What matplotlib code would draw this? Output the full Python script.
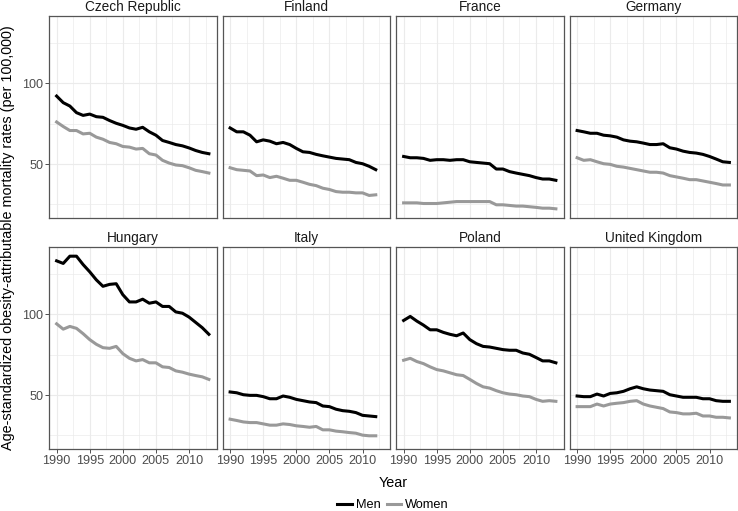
import numpy as np
import matplotlib
matplotlib.use("Agg")
import matplotlib.pyplot as plt
from matplotlib.ticker import MultipleLocator
from matplotlib.lines import Line2D

plt.rcParams['font.family'] = ['Liberation Sans', 'DejaVu Sans']

# --- data ---
countries = ['Czech Republic', 'Finland', 'France', 'Germany',
             'Hungary', 'Italy', 'Poland', 'United Kingdom']

czech_men = [92.2, 88.1, 86.0, 81.9, 80.2, 81.0, 79.4, 79.0, 77.0, 75.3, 74.0, 72.4,
             71.6, 72.8, 70.0, 67.9, 64.6, 63.4, 62.1, 61.3, 60.0, 58.4, 57.2, 56.4]
czech_women = [76.1, 73.3, 70.8, 70.8, 68.7, 69.1, 66.7, 65.4, 63.4, 62.6, 60.9, 60.5,
               59.3, 59.7, 56.4, 55.6, 52.3, 50.6, 49.4, 49.0, 47.7, 46.1, 45.3, 44.4]
finland_men = [72.4, 70.0, 70.0, 67.9, 63.8, 65.0, 64.2, 62.6, 63.4, 62.1, 59.7, 57.6,
               57.2, 56.0, 55.1, 54.3, 53.5, 53.1, 52.7, 51.0, 50.2, 48.6, 46.5]
finland_women = [47.7, 46.5, 46.1, 45.7, 42.8, 43.2, 41.6, 42.4, 41.2, 39.9, 39.9, 38.7,
                 37.4, 36.6, 35.0, 34.2, 32.9, 32.5, 32.5, 32.1, 32.1, 30.5, 30.9]
france_men = [54.7, 53.9, 53.9, 53.5, 52.3, 52.7, 52.7, 52.3, 52.7, 52.7, 51.4, 51.0,
              50.6, 50.2, 46.9, 46.9, 45.3, 44.4, 43.6, 42.8, 41.6, 40.7, 40.7, 39.9]
france_women = [25.9, 25.9, 25.9, 25.5, 25.5, 25.5, 25.9, 26.3, 26.7, 26.7, 26.7, 26.7,
                26.7, 26.7, 24.7, 24.7, 24.3, 23.9, 23.9, 23.5, 23.1, 22.6, 22.6, 22.2]
germany_men = [70.8, 70.0, 69.1, 69.1, 67.9, 67.5, 66.7, 65.0, 64.2, 63.8, 63.0, 62.1,
               62.1, 62.6, 60.1, 59.3, 58.0, 57.2, 56.8, 56.0, 54.7, 53.1, 51.4, 51.0]
germany_women = [53.9, 52.3, 52.7, 51.4, 50.2, 49.8, 48.6, 48.1, 47.3, 46.5, 45.7, 44.9,
                 44.9, 44.4, 42.8, 42.0, 41.2, 40.3, 40.3, 39.5, 38.7, 37.9, 37.0, 37.0]
hungary_men = [133.3, 131.7, 136.2, 136.2, 131.0, 126.5, 121.5, 117.5, 118.7, 119.1, 112.3, 107.8,
               107.8, 109.5, 107.0, 107.8, 105.0, 105.0, 101.6, 100.8, 98.4, 95.1, 91.8, 87.7]
hungary_women = [94.2, 90.9, 92.6, 91.4, 88.1, 84.4, 81.5, 79.4, 79.0, 80.2, 75.7, 72.8,
                 71.2, 72.0, 70.0, 70.0, 67.5, 67.1, 65.0, 64.2, 63.0, 62.1, 61.3, 59.7]
italy_men = [51.9, 51.4, 50.2, 49.8, 49.8, 49.0, 47.7, 47.7, 49.4, 48.6, 47.3, 46.5,
             45.7, 45.3, 43.2, 42.8, 41.2, 40.3, 39.9, 39.1, 37.4, 37.0, 36.6]
italy_women = [35.0, 34.2, 33.3, 32.9, 32.9, 32.1, 31.3, 31.3, 32.1, 31.7, 30.9, 30.5,
               30.0, 30.5, 28.4, 28.4, 27.6, 27.2, 26.7, 26.3, 25.1, 24.7, 24.7]
poland_men = [96.3, 98.8, 95.9, 93.4, 90.5, 90.5, 88.9, 87.7, 86.8, 88.5, 84.4, 81.9,
              80.2, 79.8, 79.0, 78.2, 77.8, 77.8, 76.1, 75.3, 73.3, 71.2, 71.2, 70.0]
poland_women = [71.6, 72.8, 70.8, 69.5, 67.5, 65.8, 65.0, 63.8, 62.6, 62.1, 59.7, 57.2,
                55.1, 54.3, 52.7, 51.4, 50.6, 50.2, 49.4, 49.0, 47.3, 46.1, 46.5, 46.1]
uk_men = [49.4, 49.0, 49.0, 50.6, 49.4, 51.0, 51.4, 52.3, 53.9, 55.1, 53.9, 53.1,
          52.7, 52.3, 50.2, 49.4, 48.6, 48.6, 48.6, 47.7, 47.7, 46.5, 46.1, 46.1]
uk_women = [42.8, 42.8, 42.8, 44.4, 43.2, 44.4, 44.9, 45.3, 46.1, 46.5, 44.4, 43.2,
            42.4, 41.6, 39.5, 39.1, 38.3, 38.3, 38.7, 37.0, 37.0, 36.2, 36.2, 35.8]

men = [czech_men, finland_men, france_men, germany_men,
       hungary_men, italy_men, poland_men, uk_men]
women = [czech_women, finland_women, france_women, germany_women,
         hungary_women, italy_women, poland_women, uk_women]
first_year = 1990

# --- figure / layout ---
W, H, DPI = 738, 511, 100
fig = plt.figure(figsize=(W / DPI, H / DPI), dpi=DPI)
fig.patch.set_facecolor('white')

men_col = '#000000'
women_col = '#999999'
grid_col = '#EBEBEB'
text_col = '#4D4D4D'

# common (fixed) scales with ggplot-like 5% expansion
all_vals = np.concatenate([np.array(v) for v in men + women])
ymin, ymax = all_vals.min(), all_vals.max()
yr = ymax - ymin
last_year = first_year + max(len(v) for v in men) - 1
xr = last_year - first_year

left0, pw, gap = 49, 167.5, 6
tops = [16, 247]
ph = 202

for i, name in enumerate(countries):
    row, col = divmod(i, 4)
    x0 = left0 + col * (pw + gap)
    ax = fig.add_axes([x0 / W, (H - tops[row] - ph) / H, pw / W, ph / H])
    yrs_m = np.arange(first_year, first_year + len(men[i]))
    yrs_w = np.arange(first_year, first_year + len(women[i]))
    ax.plot(yrs_m, men[i], color=men_col, lw=2.2, solid_joinstyle='round', zorder=3)
    ax.plot(yrs_w, women[i], color=women_col, lw=2.2, solid_joinstyle='round', zorder=3)

    ax.set_xlim(first_year - 0.05 * xr, last_year + 0.05 * xr)
    ax.set_ylim(ymin - 0.05 * yr, ymax + 0.05 * yr)
    ax.xaxis.set_major_locator(MultipleLocator(5))
    ax.xaxis.set_minor_locator(MultipleLocator(2.5))
    ax.yaxis.set_major_locator(MultipleLocator(50))
    ax.yaxis.set_minor_locator(MultipleLocator(25))
    ax.grid(which='major', color=grid_col, lw=0.8, zorder=0)
    ax.grid(which='minor', color=grid_col, lw=0.5, zorder=0)
    ax.set_axisbelow(True)
    for s in ax.spines.values():
        s.set_color('#555555')
        s.set_linewidth(0.9)
    ax.tick_params(which='major', length=2.7, width=0.6, color='#333333',
                   labelsize=9.1, labelcolor=text_col, pad=1.5)
    ax.tick_params(which='minor', length=0)
    if col != 0:
        ax.tick_params(axis='y', labelleft=False, length=0)
    if row != 1:
        ax.tick_params(axis='x', labelbottom=False, length=0)
    ax.annotate(name, xy=(0.5, 1), xycoords='axes fraction', xytext=(0, 6.3),
                textcoords='offset points', ha='center', va='center',
                fontsize=9.8, color='#1A1A1A')

fig.text(8 / W, 1 - 238 / H,
         'Age-standardized obesity-attributable mortality rates (per 100,000)',
         rotation=90, ha='center', va='center', fontsize=10.4, color='black')
fig.text(393 / W, 1 - 483 / H, 'Year', ha='center', va='center',
         fontsize=10.4, color='black')

handles = [Line2D([0], [0], color=men_col, lw=2.2),
           Line2D([0], [0], color=women_col, lw=2.2)]
fig.legend(handles, ['Men', 'Women'], loc='center', bbox_to_anchor=(393 / W, 1 - 505 / H),
           ncol=2, frameon=False, fontsize=9.2, handlelength=1.15,
           handletextpad=0.3, columnspacing=0.5, borderpad=0)

fig.savefig('out.png', dpi=DPI)
